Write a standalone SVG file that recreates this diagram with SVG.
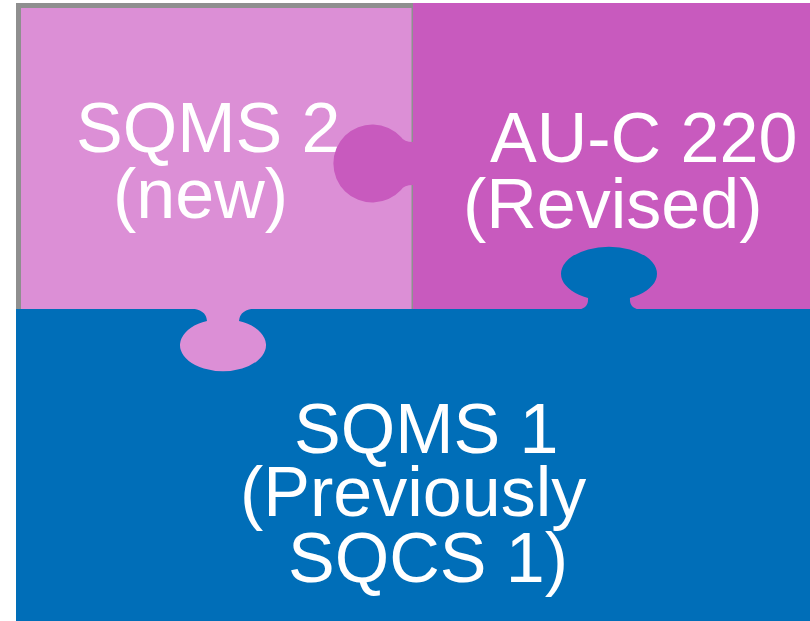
<svg xmlns="http://www.w3.org/2000/svg" width="810" height="621" viewBox="0 0 810 621">
  <style>
    .lbl { font-family: "Liberation Sans", Arial, sans-serif; font-size: 70px; fill: #FFFFFF; }
    .pink { fill: #DC8FD6; }
    .mag { fill: #C85ABE; }
    .blue { fill: #006EB8; }
  </style>
  <rect width="810" height="621" fill="#FFFFFF"/>
  <g id="piece-sqms2">
    <rect x="16" y="3" width="397" height="307" fill="#8F8F8F"/>
    <rect class="pink" x="21" y="8" width="390.5" height="302"/>
    <text class="lbl" x="76" y="152">SQMS 2</text>
    <text class="lbl" x="113" y="218">(new)</text>
  </g>
  <g id="piece-auc220">
    <rect class="mag" x="413" y="3" width="397" height="307"/>
    <path class="mag" d="M413,142 Q404,142 401,137 A39,39 0 1 0 401,190 Q404,185 413,185 Z"/>
    <text class="lbl" x="490" y="162">AU-C 220</text>
    <text class="lbl" x="463" y="228">(Revised)</text>
  </g>
  <g id="piece-sqms1">
    <rect class="blue" x="16" y="309" width="794" height="312"/>
    <path class="blue" d="M576,310 Q589,309 588,298 A48,27 0 1 1 630,298 Q629,309 642,310 Z"/>
    <path class="pink" d="M190,308.5 Q206,309 207,321 A43,26 0 1 0 239,321 Q240,309 256,308.5 Z"/>
    <text class="lbl" x="294" y="453">SQMS 1</text>
    <text class="lbl" x="240" y="516">(Previously</text>
    <text class="lbl" x="288" y="582">SQCS 1)</text>
  </g>
</svg>
